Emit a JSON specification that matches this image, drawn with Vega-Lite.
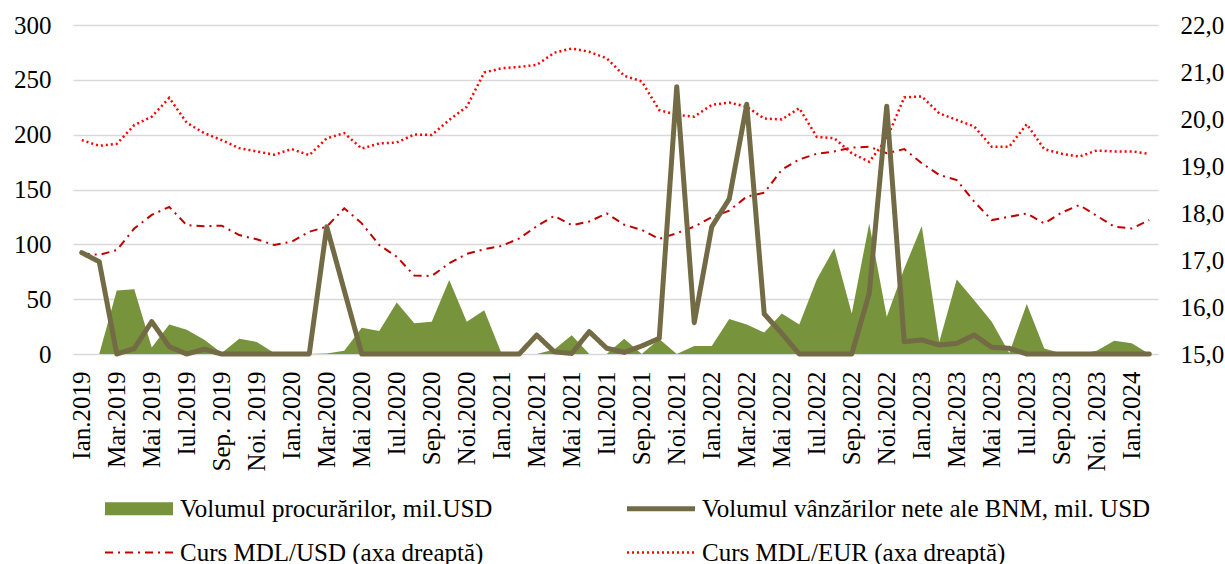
{
  "$schema": "https://vega.github.io/schema/vega-lite/v6.json",
  "width": 1085,
  "height": 329,
  "autosize": {"type": "none"},
  "padding": {"left": 73, "top": 25, "right": 67, "bottom": 210},
  "background": "white",
  "config": {
    "font": "Liberation Serif",
    "view": {"stroke": null},
    "axis": {"labelFont": "Liberation Serif", "labelFontSize": 25, "labelColor": "#000000", "ticks": false, "domain": false, "gridColor": "#d9d9d9", "gridWidth": 1.5},
    "legend": {"orient": "none", "legendX": 53.5, "legendY": 471, "direction": "horizontal", "columns": 2, "columnPadding": 132, "rowPadding": 18, "symbolType": "M-6.8,0H6.8", "symbolSize": 100, "labelFontSize": 25, "labelFont": "Liberation Serif", "labelColor": "#000000", "labelOffset": 28.5, "labelLimit": 1000}
  },
  "data": {
    "values": [
      {"luna": "Ian.2019", "proc": 0, "vanz": 92.4, "usd": 17.14, "eur": 19.55},
      {"luna": "Feb.2019", "proc": 0, "vanz": 84.2, "usd": 17.11, "eur": 19.43},
      {"luna": "Mar.2019", "proc": 58, "vanz": 0, "usd": 17.21, "eur": 19.47},
      {"luna": "Apr.2019", "proc": 59, "vanz": 5, "usd": 17.67, "eur": 19.87},
      {"luna": "Mai 2019", "proc": 6, "vanz": 29.5, "usd": 17.96, "eur": 20.05},
      {"luna": "Iun.2019", "proc": 27, "vanz": 6.7, "usd": 18.13, "eur": 20.45},
      {"luna": "Iul.2019", "proc": 22, "vanz": 0, "usd": 17.74, "eur": 19.92},
      {"luna": "Aug.2019", "proc": 13, "vanz": 4.3, "usd": 17.72, "eur": 19.7},
      {"luna": "Sep. 2019", "proc": 1, "vanz": 0, "usd": 17.73, "eur": 19.55},
      {"luna": "Oct.2019", "proc": 14, "vanz": 0, "usd": 17.53, "eur": 19.38},
      {"luna": "Noi. 2019", "proc": 11, "vanz": 0, "usd": 17.44, "eur": 19.31},
      {"luna": "Dec.2019", "proc": 1, "vanz": 0, "usd": 17.32, "eur": 19.24},
      {"luna": "Ian.2020", "proc": 0, "vanz": 0, "usd": 17.39, "eur": 19.36},
      {"luna": "Feb.2020", "proc": 0, "vanz": 0, "usd": 17.6, "eur": 19.23},
      {"luna": "Mar.2020", "proc": 0.5, "vanz": 116, "usd": 17.71, "eur": 19.59},
      {"luna": "Apr.2020", "proc": 3, "vanz": 58, "usd": 18.1, "eur": 19.7},
      {"luna": "Mai 2020", "proc": 24, "vanz": 0, "usd": 17.78, "eur": 19.37},
      {"luna": "Iun.2020", "proc": 21, "vanz": 0, "usd": 17.32, "eur": 19.48},
      {"luna": "Iul.2020", "proc": 47, "vanz": 0, "usd": 17.07, "eur": 19.5},
      {"luna": "Aug.2020", "proc": 28, "vanz": 0, "usd": 16.67, "eur": 19.67},
      {"luna": "Sep.2020", "proc": 29.5, "vanz": 0, "usd": 16.66, "eur": 19.66},
      {"luna": "Oct.2020", "proc": 67.5, "vanz": 0, "usd": 16.93, "eur": 19.98},
      {"luna": "Noi.2020", "proc": 29.5, "vanz": 0, "usd": 17.13, "eur": 20.26},
      {"luna": "Dec.2020", "proc": 40, "vanz": 0, "usd": 17.23, "eur": 20.99},
      {"luna": "Ian.2021", "proc": 0, "vanz": 0, "usd": 17.3, "eur": 21.08},
      {"luna": "Feb.2021", "proc": 0, "vanz": 0, "usd": 17.46, "eur": 21.11},
      {"luna": "Mar.2021", "proc": 0, "vanz": 17.3, "usd": 17.72, "eur": 21.15},
      {"luna": "Apr.2021", "proc": 4, "vanz": 2, "usd": 17.94, "eur": 21.41},
      {"luna": "Mai 2021", "proc": 17, "vanz": 0.5, "usd": 17.74, "eur": 21.5},
      {"luna": "Iun.2021", "proc": 0, "vanz": 20.4, "usd": 17.82, "eur": 21.43},
      {"luna": "Iul.2021", "proc": 0, "vanz": 5.2, "usd": 17.99, "eur": 21.29},
      {"luna": "Aug.2021", "proc": 14, "vanz": 1.5, "usd": 17.75, "eur": 20.92},
      {"luna": "Sep.2021", "proc": 0, "vanz": 7.3, "usd": 17.64, "eur": 20.8},
      {"luna": "Oct.2021", "proc": 13.7, "vanz": 14.3, "usd": 17.45, "eur": 20.19},
      {"luna": "Noi.2021", "proc": 0, "vanz": 243.8, "usd": 17.57, "eur": 20.09},
      {"luna": "Dec.2021", "proc": 7.3, "vanz": 28.6, "usd": 17.71, "eur": 20.05},
      {"luna": "Ian.2022", "proc": 7.3, "vanz": 116, "usd": 17.91, "eur": 20.3},
      {"luna": "Feb.2022", "proc": 32, "vanz": 141.4, "usd": 18.05, "eur": 20.35},
      {"luna": "Mar.2022", "proc": 27, "vanz": 227.7, "usd": 18.35, "eur": 20.26},
      {"luna": "Apr.2022", "proc": 19.5, "vanz": 36.5, "usd": 18.43, "eur": 20.01},
      {"luna": "Mai 2022", "proc": 37, "vanz": 18.8, "usd": 18.92, "eur": 19.99},
      {"luna": "Iun.2022", "proc": 27, "vanz": 0, "usd": 19.14, "eur": 20.23},
      {"luna": "Iul.2022", "proc": 68, "vanz": 0, "usd": 19.26, "eur": 19.62},
      {"luna": "Aug.2022", "proc": 96.4, "vanz": 0, "usd": 19.31, "eur": 19.59},
      {"luna": "Sep.2022", "proc": 37, "vanz": 0, "usd": 19.39, "eur": 19.27},
      {"luna": "Oct.2022", "proc": 119, "vanz": 55.3, "usd": 19.41, "eur": 19.09},
      {"luna": "Noi.2022", "proc": 34, "vanz": 226, "usd": 19.27, "eur": 19.58},
      {"luna": "Dec.2022", "proc": 78, "vanz": 11.2, "usd": 19.36, "eur": 20.46},
      {"luna": "Ian.2023", "proc": 116.7, "vanz": 12.8, "usd": 19.06, "eur": 20.48},
      {"luna": "Feb.2023", "proc": 11, "vanz": 8.2, "usd": 18.81, "eur": 20.12},
      {"luna": "Mar.2023", "proc": 68, "vanz": 9.7, "usd": 18.7, "eur": 19.98},
      {"luna": "Apr.2023", "proc": 49, "vanz": 17.3, "usd": 18.24, "eur": 19.84},
      {"luna": "Mai 2023", "proc": 29.5, "vanz": 6.1, "usd": 17.85, "eur": 19.41},
      {"luna": "Iun.2023", "proc": 1, "vanz": 5.2, "usd": 17.92, "eur": 19.41},
      {"luna": "Iul.2023", "proc": 45.6, "vanz": 0, "usd": 17.99, "eur": 19.89},
      {"luna": "Aug.2023", "proc": 5, "vanz": 0, "usd": 17.78, "eur": 19.36},
      {"luna": "Sep.2023", "proc": 0.5, "vanz": 0, "usd": 18.01, "eur": 19.26},
      {"luna": "Oct.2023", "proc": 0, "vanz": 0, "usd": 18.17, "eur": 19.2},
      {"luna": "Noi. 2023", "proc": 3, "vanz": 0, "usd": 17.94, "eur": 19.33},
      {"luna": "Dec.2023", "proc": 12, "vanz": 0, "usd": 17.71, "eur": 19.31},
      {"luna": "Ian.2024", "proc": 9.7, "vanz": 0, "usd": 17.67, "eur": 19.31},
      {"luna": "Feb.2024", "proc": 0, "vanz": 0, "usd": 17.85, "eur": 19.26}
    ]
  },
  "encoding": {
    "x": {
      "field": "luna", "type": "ordinal", "title": null,
      "scale": {"type": "point", "padding": 0.5, "domain": ["Ian.2019","Feb.2019","Mar.2019","Apr.2019","Mai 2019","Iun.2019","Iul.2019","Aug.2019","Sep. 2019","Oct.2019","Noi. 2019","Dec.2019","Ian.2020","Feb.2020","Mar.2020","Apr.2020","Mai 2020","Iun.2020","Iul.2020","Aug.2020","Sep.2020","Oct.2020","Noi.2020","Dec.2020","Ian.2021","Feb.2021","Mar.2021","Apr.2021","Mai 2021","Iun.2021","Iul.2021","Aug.2021","Sep.2021","Oct.2021","Noi.2021","Dec.2021","Ian.2022","Feb.2022","Mar.2022","Apr.2022","Mai 2022","Iun.2022","Iul.2022","Aug.2022","Sep.2022","Oct.2022","Noi.2022","Dec.2022","Ian.2023","Feb.2023","Mar.2023","Apr.2023","Mai 2023","Iun.2023","Iul.2023","Aug.2023","Sep.2023","Oct.2023","Noi. 2023","Dec.2023","Ian.2024","Feb.2024"]},
      "axis": {
        "values": ["Ian.2019","Mar.2019","Mai 2019","Iul.2019","Sep. 2019","Noi. 2019","Ian.2020","Mar.2020","Mai 2020","Iul.2020","Sep.2020","Noi.2020","Ian.2021","Mar.2021","Mai 2021","Iul.2021","Sep.2021","Noi.2021","Ian.2022","Mar.2022","Mai 2022","Iul.2022","Sep.2022","Noi.2022","Ian.2023","Mar.2023","Mai 2023","Iul.2023","Sep.2023","Noi. 2023","Ian.2024"],
        "labelAngle": -90, "labelAlign": "right", "labelBaseline": "middle", "labelPadding": 17, "grid": false, "labelOverlap": false
      }
    }
  },
  "layer": [
    {
      "transform": [{"fold": ["usd", "eur"], "as": ["serie", "val"]}],
      "mark": {"type": "line", "strokeCap": "butt"},
      "encoding": {
        "y": {"field": "val", "type": "quantitative", "title": null, "scale": {"domain": [15, 22], "zero": false, "nice": false},
          "axis": {"orient": "right", "values": [15, 16, 17, 18, 19, 20, 21, 22], "grid": false, "labelPadding": 22, "labelAlign": "left", "labelExpr": "replace(format(datum.value, '.1f'), '.', ',')"}},
        "color": {"field": "serie", "type": "nominal", "scale": {"domain": ["proc", "vanz", "usd", "eur"], "range": ["#77933C", "#736B45", "#C00000", "#FF0000"]},
          "legend": {"title": null, "encode": {"symbols": {"update": {"strokeJoin": {"value": "round"}}}}, "labelExpr": "{'proc':'Volumul procurărilor, mil.USD','vanz':'Volumul vânzărilor nete ale BNM, mil. USD','usd':'Curs MDL/USD (axa dreaptă)','eur':'Curs MDL/EUR (axa dreaptă)'}[datum.label]"}},
        "strokeDash": {"field": "serie", "type": "nominal", "scale": {"domain": ["proc", "vanz", "usd", "eur"], "range": [[1, 0], [1, 0], [8, 5, 2, 5], [2, 3]]},
          "legend": {"title": null, "encode": {"symbols": {"update": {"strokeJoin": {"value": "round"}}}}, "labelExpr": "{'proc':'Volumul procurărilor, mil.USD','vanz':'Volumul vânzărilor nete ale BNM, mil. USD','usd':'Curs MDL/USD (axa dreaptă)','eur':'Curs MDL/EUR (axa dreaptă)'}[datum.label]"}},
        "strokeWidth": {"field": "serie", "type": "nominal", "scale": {"type": "ordinal", "domain": ["proc", "vanz", "usd", "eur"], "range": [13, 5, 2, 2.5]},
          "legend": {"title": null, "encode": {"symbols": {"update": {"strokeJoin": {"value": "round"}}}}, "labelExpr": "{'proc':'Volumul procurărilor, mil.USD','vanz':'Volumul vânzărilor nete ale BNM, mil. USD','usd':'Curs MDL/USD (axa dreaptă)','eur':'Curs MDL/EUR (axa dreaptă)'}[datum.label]"}}
      }
    },
    {
      "encoding": {
        "y": {"field": "val", "type": "quantitative", "title": null, "scale": {"domain": [0, 300], "nice": false},
          "axis": {"orient": "left", "values": [0, 50, 100, 150, 200, 250, 300], "grid": true, "labelPadding": 22}}
      },
      "layer": [
        {
          "transform": [{"fold": ["proc"], "as": ["serie", "val"]}],
          "mark": {"type": "area", "opacity": 1},
          "encoding": {
            "color": {"field": "serie", "type": "nominal", "scale": {"domain": ["proc", "vanz", "usd", "eur"], "range": ["#77933C", "#736B45", "#C00000", "#FF0000"]},
              "legend": {"title": null, "encode": {"symbols": {"update": {"strokeJoin": {"value": "round"}}}}, "labelExpr": "{'proc':'Volumul procurărilor, mil.USD','vanz':'Volumul vânzărilor nete ale BNM, mil. USD','usd':'Curs MDL/USD (axa dreaptă)','eur':'Curs MDL/EUR (axa dreaptă)'}[datum.label]"}}
          }
        },
        {
          "transform": [{"fold": ["vanz"], "as": ["serie", "val"]}],
          "mark": {"type": "line", "strokeCap": "round", "strokeJoin": "round"},
          "encoding": {
            "color": {"field": "serie", "type": "nominal", "scale": {"domain": ["proc", "vanz", "usd", "eur"], "range": ["#77933C", "#736B45", "#C00000", "#FF0000"]},
              "legend": {"title": null, "encode": {"symbols": {"update": {"strokeJoin": {"value": "round"}}}}, "labelExpr": "{'proc':'Volumul procurărilor, mil.USD','vanz':'Volumul vânzărilor nete ale BNM, mil. USD','usd':'Curs MDL/USD (axa dreaptă)','eur':'Curs MDL/EUR (axa dreaptă)'}[datum.label]"}},
            "strokeDash": {"field": "serie", "type": "nominal", "scale": {"domain": ["proc", "vanz", "usd", "eur"], "range": [[1, 0], [1, 0], [8, 5, 2, 5], [2, 3]]},
              "legend": {"title": null, "encode": {"symbols": {"update": {"strokeJoin": {"value": "round"}}}}, "labelExpr": "{'proc':'Volumul procurărilor, mil.USD','vanz':'Volumul vânzărilor nete ale BNM, mil. USD','usd':'Curs MDL/USD (axa dreaptă)','eur':'Curs MDL/EUR (axa dreaptă)'}[datum.label]"}},
            "strokeWidth": {"field": "serie", "type": "nominal", "scale": {"type": "ordinal", "domain": ["proc", "vanz", "usd", "eur"], "range": [13, 5, 2, 2.5]},
              "legend": {"title": null, "encode": {"symbols": {"update": {"strokeJoin": {"value": "round"}}}}, "labelExpr": "{'proc':'Volumul procurărilor, mil.USD','vanz':'Volumul vânzărilor nete ale BNM, mil. USD','usd':'Curs MDL/USD (axa dreaptă)','eur':'Curs MDL/EUR (axa dreaptă)'}[datum.label]"}}
          }
        }
      ]
    }
  ],
  "resolve": {"scale": {"y": "independent"}}
}
